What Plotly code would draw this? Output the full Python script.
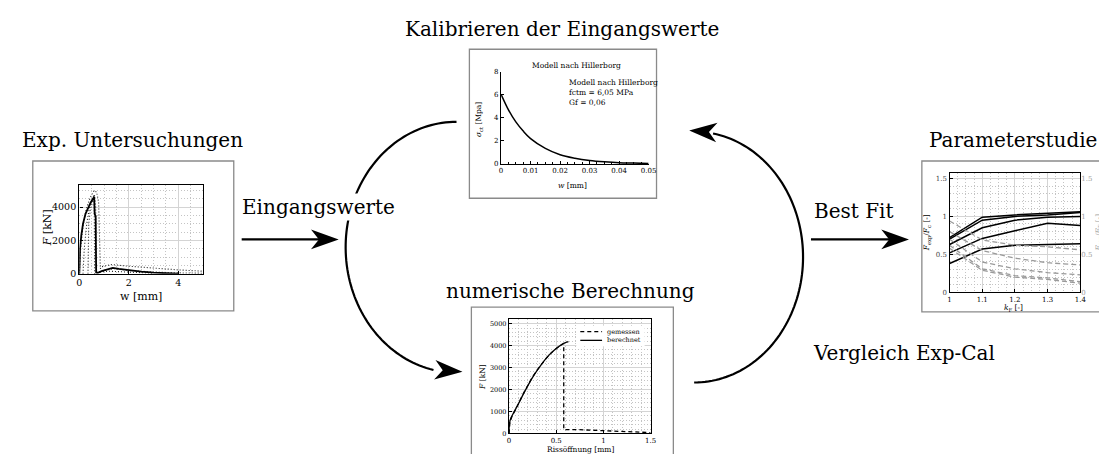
import numpy as np
import plotly.graph_objects as go

W, H = 1107, 454
SERIF = "DejaVu Serif"

# ---------------- data ----------------
# Exp. Untersuchungen: force F [kN] over crack opening w [mm]
exp_main_w = [0, 0.01, 0.03, 0.08, 0.15, 0.25, 0.35, 0.45, 0.55, 0.6, 0.62, 0.66, 0.68, 0.75, 0.9, 1.1, 1.35, 1.6, 2.0, 2.5, 3.0, 3.5, 4.0]
exp_main_F = [0, 700, 1500, 2300, 3000, 3600, 3950, 4250, 4500, 4600, 3600, 3450, 80, 60, 150, 250, 350, 290, 200, 120, 60, 20, 0]
exp_d1_w = [0, 0.05, 0.15, 0.3, 0.45, 0.6, 0.7, 0.78, 0.82, 0.85, 0.9, 1.3, 2.0, 3.0, 4.0, 5.0]
exp_d1_F = [0, 1400, 2900, 4000, 4600, 5000, 4900, 4300, 2000, 300, 420, 550, 450, 330, 230, 150]
exp_d2_w = [0.35, 0.38, 0.45, 0.55, 0.62, 0.66, 0.7, 1.0, 1.4, 2.0, 3.0, 4.0, 5.0]
exp_d2_F = [0, 3000, 3900, 4450, 4700, 4000, 60, 200, 300, 200, 100, 50, 30]
exp_d3_w = [0.15, 0.2, 0.3, 0.4, 0.5, 0.57, 0.6, 0.62, 0.8, 1.2, 2.0, 3.0]
exp_d3_F = [0, 1500, 3000, 3900, 4400, 4700, 4750, 0, 100, 150, 80, 30]

# Kalibrieren: Hillerborg softening curve
hill_w = [0, 0.0025, 0.005, 0.0075, 0.01, 0.015, 0.02, 0.025, 0.03, 0.035, 0.04, 0.045, 0.05]
hill_s = [6.05, 4.7, 3.65, 2.85, 2.2, 1.35, 0.8, 0.5, 0.3, 0.18, 0.1, 0.07, 0.04]

# numerische Berechnung
gem_w = [0, 0.01, 0.03, 0.06, 0.1, 0.15, 0.2, 0.25, 0.3, 0.35, 0.4, 0.45, 0.5, 0.55, 0.58, 0.58, 0.7, 0.9, 1.0, 1.2, 1.5]
gem_F = [0, 520, 760, 1000, 1350, 1800, 2200, 2580, 2900, 3200, 3450, 3680, 3870, 4030, 4100, 180, 180, 140, 120, 80, 40]
ber_w = [0, 0.005, 0.02, 0.05, 0.1, 0.15, 0.2, 0.25, 0.3, 0.35, 0.4, 0.45, 0.5, 0.55, 0.6, 0.63]
ber_F = [0, 450, 700, 950, 1350, 1780, 2180, 2550, 2880, 3180, 3450, 3680, 3870, 4020, 4140, 4180]

# Parameterstudie
kF = [1.0, 1.1, 1.2, 1.3, 1.4]
ps_solid = [
    [0.72, 0.99, 1.02, 1.04, 1.06],
    [0.70, 0.95, 1.00, 1.02, 1.05],
    [0.63, 0.85, 0.95, 0.99, 1.00],
    [0.52, 0.71, 0.81, 0.91, 0.88],
    [0.38, 0.57, 0.62, 0.63, 0.64],
]
ps_dashed = [
    [0.94, 0.69, 0.62, 0.60, 0.56],
    [0.80, 0.55, 0.45, 0.39, 0.36],
    [0.70, 0.40, 0.31, 0.26, 0.23],
    [0.62, 0.31, 0.22, 0.19, 0.14],
    [0.58, 0.29, 0.20, 0.17, 0.12],
]

# ---------------- helpers ----------------
def dx(a, b):
    return [a / W, b / W]

def dy(top, bottom):
    return [1 - bottom / H, 1 - top / H]

def P(x, y):
    return f"{x / W:.5f},{1 - y / H:.5f}"

fig = go.Figure()

DOT = "1px,2px"
# Exp traces
for xs, ys in [(exp_d1_w, exp_d1_F), (exp_d2_w, exp_d2_F), (exp_d3_w, exp_d3_F)]:
    fig.add_trace(go.Scatter(x=xs, y=ys, mode="lines", line=dict(color="#222", width=1.1, dash=DOT),
                             xaxis="x", yaxis="y", showlegend=False))
fig.add_trace(go.Scatter(x=exp_main_w, y=exp_main_F, mode="lines", line=dict(color="black", width=1.8),
                         xaxis="x", yaxis="y", showlegend=False))

# Hillerborg
fig.add_trace(go.Scatter(x=hill_w, y=hill_s, mode="lines", line=dict(color="black", width=1.5, shape="spline"),
                         xaxis="x2", yaxis="y2", showlegend=False))

# numerische Berechnung
fig.add_trace(go.Scatter(x=gem_w, y=gem_F, mode="lines", name="gemessen", line=dict(color="black", width=1.3, dash="4px,3px"),
                         xaxis="x3", yaxis="y3", showlegend=False))
fig.add_trace(go.Scatter(x=ber_w, y=ber_F, mode="lines", name="berechnet", line=dict(color="black", width=1.3, shape="spline"),
                         xaxis="x3", yaxis="y3", showlegend=False))

# Parameterstudie
for ys in ps_dashed:
    fig.add_trace(go.Scatter(x=kF, y=ys, mode="lines", line=dict(color="#9a9a9a", width=1.3, dash="5px,3px"),
                             xaxis="x4", yaxis="y5", showlegend=False))
for ys in ps_solid:
    fig.add_trace(go.Scatter(x=kF, y=ys, mode="lines", line=dict(color="black", width=1.5),
                             xaxis="x4", yaxis="y4", showlegend=False))

def framed(**kw):
    d = dict(showline=True, linecolor="black", linewidth=1.4, mirror=True,
             ticks="inside", ticklen=3, tickcolor="black", tickwidth=0.8,
             showgrid=True, gridcolor="#d4d4d4", gridwidth=0.8, zeroline=False,
             tickfont=dict(family=SERIF, size=7, color="black"), fixedrange=True)
    d.update(kw)
    return d

def minor(dt):
    return dict(dtick=dt, showgrid=True, gridcolor="#c4c4c4", griddash=DOT, gridwidth=0.7, ticks="")

fig.update_layout(
    width=W, height=H, margin=dict(l=0, r=0, t=0, b=0),
    paper_bgcolor="white", plot_bgcolor="white",
    font=dict(family=SERIF, color="black"), showlegend=False,
    xaxis=framed(domain=dx(69, 194), range=[0, 5], tickvals=[0, 2, 4], minor=minor(0.5), anchor="y",
                 tickfont=dict(family=SERIF, size=9.5)),
    yaxis=framed(domain=dy(177, 267), range=[0, 5300], tickvals=[0, 2000, 4000], minor=minor(500), anchor="x",
                 tickfont=dict(family=SERIF, size=9.5)),
    xaxis2=dict(domain=dx(495, 644), range=[0, 0.05], dtick=0.01, showline=True, linecolor="black", linewidth=1.2,
                ticks="inside", ticklen=3, tickcolor="black", showgrid=False, zeroline=False,
                tickfont=dict(family=SERIF, size=7), minor=dict(dtick=0.0025, ticks="inside", ticklen=2, tickcolor="black"),
                anchor="y2", fixedrange=True),
    yaxis2=dict(domain=dy(61, 155), range=[0, 8], dtick=2, showline=True, linecolor="black", linewidth=1.2,
                ticks="inside", ticklen=3, tickcolor="black", showgrid=False, zeroline=False,
                tickfont=dict(family=SERIF, size=7), anchor="x2", fixedrange=True),
    xaxis3=framed(domain=dx(503, 646), range=[0, 1.5], tickvals=[0, 0.5, 1, 1.5], minor=minor(0.1), anchor="y3"),
    yaxis3=framed(domain=dy(313, 430), range=[0, 5220], dtick=1000, minor=minor(200), anchor="x3",
                  tickfont=dict(family=SERIF, size=6.5)),
    xaxis4=framed(domain=dx(948, 1080), range=[1, 1.4], dtick=0.1, minor=minor(0.025), anchor="y4"),
    yaxis4=framed(domain=dy(164, 286), range=[0, 1.575], tickvals=[0, 0.5, 1, 1.5], ticktext=["0", "0.5", "1", "1.5"],
                  minor=minor(0.1), anchor="x4", tickfont=dict(family=SERIF, size=7, color="#444")),
    yaxis5=dict(domain=dy(164, 286), range=[0, 1.575], tickvals=[0, 0.5, 1, 1.5], ticktext=["0", "0.5", "1", "1.5"],
                overlaying="y4", side="right", anchor="x4", showgrid=False, zeroline=False, ticks="",
                tickfont=dict(family=SERIF, size=7, color="#a0a0a0"), fixedrange=True),
)

# ---------------- shapes: boxes, arcs, arrows ----------------
shapes = []
box_line = dict(color="#8a8a8a", width=1.3)
for (x0, y0, x1, y1) in [(22, 152, 225, 305), (463, 38, 652, 190), (465, 301, 669, 460), (920, 152, 1110, 306)]:
    shapes.append(dict(type="rect", xref="paper", yref="paper", x0=x0 / W, x1=x1 / W, y0=1 - y1 / H, y1=1 - y0 / H,
                       line=box_line, fillcolor="rgba(0,0,0,0)", layer="below"))

def arc_path(cx, cy, rx, ry, t0, t1, n=90):
    ts = np.radians(np.linspace(t0, t1, n))
    pts = [(cx + rx * np.cos(t), cy - ry * np.sin(t)) for t in ts]
    return "M " + " L ".join(P(x, y) for x, y in pts)

def head(tx, ty, ang, L=28, hw=10, notch=20):
    a = np.radians(ang)
    ux, uy = np.cos(a), np.sin(a)
    nx, ny = -uy, ux
    bx, by = tx - L * ux, ty - L * uy
    c1 = (bx + hw * nx, by + hw * ny)
    c2 = (bx - hw * nx, by - hw * ny)
    nt = (tx - notch * ux, ty - notch * uy)
    return f"M {P(tx, ty)} L {P(*c1)} L {P(*nt)} L {P(*c2)} Z"

line_style = dict(color="black", width=2.2)
# left arc (to numerische Berechnung)
shapes.append(dict(type="path", xref="paper", yref="paper", path=arc_path(450, 240, 112, 128, 90, 258), line=line_style))
shapes.append(dict(type="path", xref="paper", yref="paper", path=head(456, 367, 4), fillcolor="black", line=dict(width=0)))
# right arc (back to Kalibrieren)
shapes.append(dict(type="path", xref="paper", yref="paper", path=arc_path(690, 250, 110, 128, -90, 80), line=line_style))
shapes.append(dict(type="path", xref="paper", yref="paper", path=head(685, 121, 184), fillcolor="black", line=dict(width=0)))
# straight arrows
shapes.append(dict(type="line", xref="paper", yref="paper", x0=233 / W, x1=312 / W, y0=1 - 232 / H, y1=1 - 232 / H, line=line_style))
shapes.append(dict(type="path", xref="paper", yref="paper", path=head(331, 232, 0), fillcolor="black", line=dict(width=0)))
shapes.append(dict(type="line", xref="paper", yref="paper", x0=808 / W, x1=890 / W, y0=1 - 232 / H, y1=1 - 232 / H, line=line_style))
shapes.append(dict(type="path", xref="paper", yref="paper", path=head(907, 232, 0), fillcolor="black", line=dict(width=0)))

# manual legend for numerische Berechnung
shapes.append(dict(type="rect", xref="paper", yref="paper", x0=571 / W, x1=640 / W, y0=1 - 341 / H, y1=1 - 320 / H,
                   fillcolor="white", line=dict(width=0), layer="above"))
shapes.append(dict(type="line", xref="paper", yref="paper", x0=575 / W, x1=597 / W, y0=1 - 326 / H, y1=1 - 326 / H,
                   line=dict(color="black", width=1.3, dash="4px,3px")))
shapes.append(dict(type="line", xref="paper", yref="paper", x0=575 / W, x1=597 / W, y0=1 - 335 / H, y1=1 - 335 / H,
                   line=dict(color="black", width=1.3)))
fig.update_layout(shapes=shapes)

# ---------------- annotations ----------------
def note(text, x, y, size, xanchor="center", textangle=0, color="black", bg=None, align="center"):
    d = dict(text=text, x=x / W, y=1 - y / H, xref="paper", yref="paper", showarrow=False,
             xanchor=xanchor, yanchor="middle", textangle=textangle, align=align,
             font=dict(family=SERIF, size=size, color=color))
    if bg:
        d["bgcolor"] = bg
    return d

BIG = 20
ann = [
    note("Kalibrieren der Eingangswerte", 557, 17, BIG),
    note("Exp. Untersuchungen", 123, 131, BIG),
    note("Parameterstudie", 1012, 131, BIG),
    note("numerische Berechnung", 565, 285, BIG),
    note("Eingangswerte", 311, 199, BIG, bg="white"),
    note("Best Fit", 851, 203, BIG),
    note("Vergleich Exp-Cal", 808, 348, BIG, xanchor="left"),
    # Exp axis titles
    note("<i>F</i> [kN]", 37, 220, 11, textangle=-90),
    note("w [mm]", 131, 290, 11),
    # Hillerborg texts
    note("Modell nach Hillerborg", 571, 55, 7.5),
    note("Modell nach Hillerborg<br>fctm = 6,05 MPa<br>Gf = 0,06", 562, 82, 7.5, xanchor="left", align="left"),
    note("<i>σ</i><sub>ct</sub> [Mpa]", 473, 110, 7.5, textangle=-90),
    note("<i>w</i> [mm]", 567, 177, 7.5),
    # numerische axis titles + legend labels
    note("<i>F</i> [kN]", 476, 372, 7.5, textangle=-90),
    note("Rissöffnung [mm]", 575, 446, 7.5),
    note("gemessen", 600, 326, 6.5, xanchor="left"),
    note("berechnet", 600, 335, 6.5, xanchor="left"),
    # Parameterstudie axis titles
    note("<i>F</i><sub>exp</sub>/<i>F</i><sub>c</sub> [-]", 926, 225, 7.5, textangle=-90),
    note("<i>F</i><sub>exp</sub>/<i>F</i><sub>T</sub> [-]", 1099, 225, 7.5, textangle=-90, color="#a0a0a0"),
    note("<i>k</i><sub>F</sub> [-]", 1013, 302, 7.5),
]
fig.update_layout(annotations=ann)

fig.write_html("out.html")
